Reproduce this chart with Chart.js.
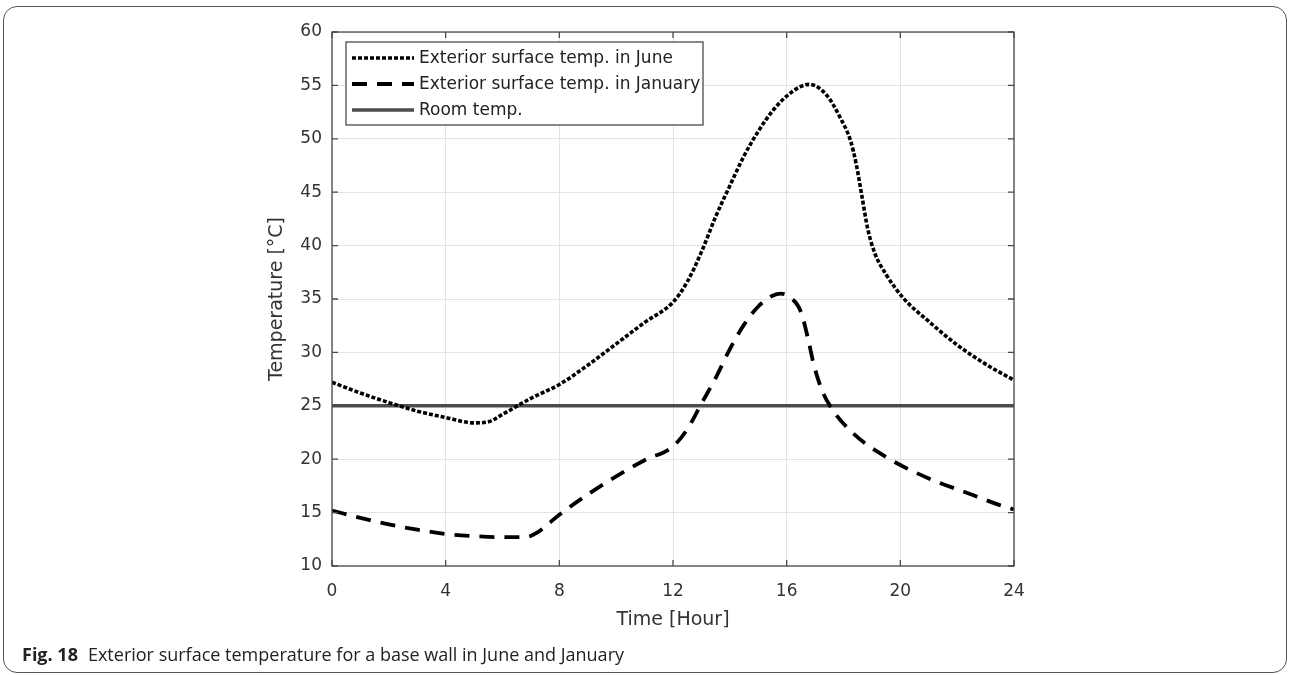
<!DOCTYPE html>
<html>
<head>
<meta charset="utf-8">
<script src="https://cdn.jsdelivr.net/npm/chart.js@4.4.1/dist/chart.umd.min.js"></script>
<style>
  html, body { margin: 0; padding: 0; background: #fff; }
  #page { position: relative; width: 1290px; height: 675px; overflow: hidden; }
  #frame { position: absolute; left: 3px; top: 6px; width: 1282px; height: 665px;
           border: 1.5px solid #555; border-radius: 14px; }
  #wrap { position: absolute; left: 0; top: 0; width: 1290px; height: 675px; }
  #caption { position: absolute; left: 22px; top: 642px; font-family: "Open Sans", sans-serif;
             font-size: 18px; color: #222; white-space: nowrap; }
  #caption b { margin-right: 10px; }
</style>
</head>
<body>
<div id="page">
  <div id="frame"></div>
  <div id="wrap"><canvas id="myChart"></canvas></div>
  <div id="caption"><b>Fig. 18</b>Exterior surface temperature for a base wall in June and January</div>
</div>
<script>
// values (hour of day -> temperature in degC)
var juneHours = [0, 1, 2, 3, 4, 5, 5.5, 6, 7, 8, 9, 10, 11, 12, 12.5, 13, 13.5, 14, 14.5, 15, 15.5, 16, 16.5, 16.8,
                 17.4, 17.9, 18.25, 18.45, 18.65, 18.85, 19.1, 19.5, 20.1, 21, 22, 23, 24];
var juneTemps = [27.2, 26.2, 25.3, 24.5, 23.9, 23.4, 23.5, 24.2, 25.7, 27.0, 28.8, 30.8, 32.8, 34.7, 36.6, 39.4, 42.7, 45.6, 48.4, 50.7, 52.6, 54.0, 54.9, 55.1,
                 54.1, 51.9, 49.8, 47.6, 44.6, 41.6, 39.3, 37.3, 35.1, 32.9, 30.7, 28.9, 27.4];

var janHours = [0, 1, 2, 3, 4, 5, 6, 6.8, 7.2, 8, 9, 10, 11, 12, 12.5, 13, 13.5, 14, 14.5, 15, 15.5, 15.8, 16.1,
                16.5, 16.75, 16.95, 17.25, 17.65, 18.35, 19.5, 21, 22.5, 23.5, 24];
var janTemps = [15.2, 14.5, 13.9, 13.4, 13.0, 12.8, 12.7, 12.7, 13.1, 14.8, 16.7, 18.4, 19.9, 21.2, 22.8, 25.2, 27.6, 30.3, 32.6, 34.3, 35.3, 35.5, 35.2,
                33.8, 31.3, 28.9, 26.4, 24.5, 22.4, 20.2, 18.2, 16.7, 15.7, 15.3];

var roomHours = [0, 24];
var roomTemps = [25, 25];

var seriesLabels = ['Exterior surface temp. in June', 'Exterior surface temp. in January', 'Room temp.'];
var xTicks = [0, 4, 8, 12, 16, 20, 24];
var yTicks = [10, 15, 20, 25, 30, 35, 40, 45, 50, 55, 60];

function toPoints(xs, ys)
{
    var pts = [];
    for (var i = 0; i < xs.length; i++) {
        pts.push({x: xs[i], y: ys[i]});
    }
    return pts;
}

// box around the axes + inward ticks, like the matlab figure
var boxPlugin = {
    id: 'boxPlugin',
    afterDatasetsDraw: function (chart) {
        var ctx = chart.ctx, a = chart.chartArea;
        var sx = chart.scales.x, sy = chart.scales.y;
        ctx.save();
        ctx.strokeStyle = '#4a4a4a';
        ctx.lineWidth = 1.3;
        ctx.beginPath();
        xTicks.forEach(function (v) {
            var px = sx.getPixelForValue(v);
            ctx.moveTo(px, a.bottom); ctx.lineTo(px, a.bottom - 6);
            ctx.moveTo(px, a.top); ctx.lineTo(px, a.top + 6);
        });
        yTicks.forEach(function (v) {
            var py = sy.getPixelForValue(v);
            ctx.moveTo(a.left, py); ctx.lineTo(a.left + 6, py);
            ctx.moveTo(a.right, py); ctx.lineTo(a.right - 6, py);
        });
        ctx.stroke();
        ctx.strokeRect(a.left, a.top, a.right - a.left, a.bottom - a.top);
        ctx.restore();
    }
};

// legend drawn inside the plot, top-left
var boxLegend = {
    id: 'boxLegend',
    afterDraw: function (chart) {
        var ctx = chart.ctx, a = chart.chartArea;
        var left = a.left + 14, top = a.top + 10, w = 357, h = 83;
        ctx.save();
        ctx.fillStyle = '#fff';
        ctx.fillRect(left, top, w, h);
        ctx.strokeStyle = '#4a4a4a';
        ctx.lineWidth = 1.3;
        ctx.strokeRect(left, top, w, h);
        ctx.font = '17px "DejaVu Sans"';
        ctx.textBaseline = 'middle';
        chart.data.datasets.forEach(function (ds, i) {
            var y = top + 16 + i * 26;
            ctx.strokeStyle = ds.borderColor;
            ctx.lineWidth = ds.borderWidth;
            ctx.setLineDash(ds.borderDash || []);
            ctx.beginPath();
            ctx.moveTo(left + 6, y);
            ctx.lineTo(left + 68, y);
            ctx.stroke();
            ctx.setLineDash([]);
            ctx.fillStyle = '#222';
            ctx.fillText(ds.label, left + 73, y + 1);
        });
        ctx.restore();
    }
};

function buildChart()
{
    var ctxL = document.getElementById('myChart').getContext('2d');
    new Chart(ctxL, {
        type: 'scatter',
        data: {
            datasets: [{
                label: seriesLabels[0],
                data: toPoints(juneHours, juneTemps),
                borderColor: '#000',
                borderWidth: 3.6,
                borderDash: [4, 2],
                cubicInterpolationMode: 'monotone'
            }, {
                label: seriesLabels[1],
                data: toPoints(janHours, janTemps),
                borderColor: '#000',
                borderWidth: 3.8,
                borderDash: [15, 10],
                cubicInterpolationMode: 'monotone'
            }, {
                label: seriesLabels[2],
                data: toPoints(roomHours, roomTemps),
                borderColor: '#4d4d4d',
                borderWidth: 3.4
            }]
        },
        options: {
            responsive: true,
            maintainAspectRatio: false,
            animation: false,
            showLine: true,
            elements: { point: { radius: 0, hoverRadius: 0 } },
            layout: { padding: { left: 262, top: 32, right: 276, bottom: 40 } },
            plugins: { legend: { display: false }, tooltip: { enabled: false } },
            scales: {
                x: {
                    type: 'linear', min: 0, max: 24,
                    afterFit: function (s) { s.height = 69; },
                    afterBuildTicks: function (s) { s.ticks = xTicks.map(function (v) { return {value: v}; }); },
                    grid: { color: '#e3e3e3', lineWidth: 1, drawTicks: false },
                    border: { display: false },
                    ticks: { padding: 15, color: '#333', font: { family: 'DejaVu Sans', size: 17 } },
                    title: { display: true, text: 'Time [Hour]', color: '#333', font: { family: 'DejaVu Sans', size: 19 } }
                },
                y: {
                    type: 'linear', min: 10, max: 60,
                    afterFit: function (s) { s.width = 70; },
                    afterBuildTicks: function (s) { s.ticks = yTicks.map(function (v) { return {value: v}; }); },
                    grid: { color: '#e3e3e3', lineWidth: 1, drawTicks: false },
                    border: { display: false },
                    ticks: { padding: 10, color: '#333', font: { family: 'DejaVu Sans', size: 17 } },
                    title: { display: true, text: 'Temperature [°C]', color: '#333', font: { family: 'DejaVu Sans', size: 19 } }
                }
            }
        },
        plugins: [boxPlugin, boxLegend]
    });
}

buildChart();
</script>
</body>
</html>
